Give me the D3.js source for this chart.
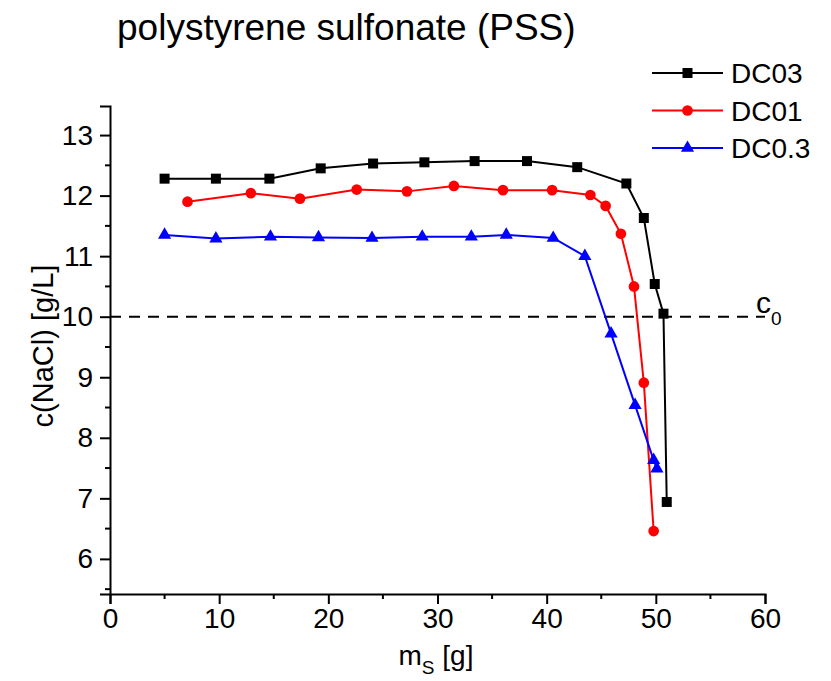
<!DOCTYPE html>
<html>
<head>
<meta charset="utf-8">
<script src="https://cdn.jsdelivr.net/npm/d3@7"></script>
<style>
  body { margin: 0; background: #fff; }
  text { font-family: "Liberation Sans", Arial, sans-serif; }
</style>
</head>
<body>
<div id="chart"></div>
<script>
// data
var dc03X = [5.0, 9.7, 14.6, 19.3, 24.1, 28.8, 33.4, 38.2, 42.8, 47.3, 48.9, 49.9, 50.7, 51.0];
var dc03Y = [12.28, 12.28, 12.28, 12.45, 12.53, 12.55, 12.57, 12.57, 12.47, 12.2, 11.63, 10.54, 10.05, 6.94];

var dc01X = [7.1, 12.9, 17.4, 22.6, 27.2, 31.5, 36.0, 40.5, 44.0, 45.4, 46.8, 48.0, 48.9, 49.8];
var dc01Y = [11.90, 12.04, 11.95, 12.10, 12.07, 12.16, 12.09, 12.09, 12.01, 11.83, 11.37, 10.50, 8.91, 6.46];

var dc03sX = [5.0, 9.7, 14.7, 19.1, 24.0, 28.6, 33.1, 36.3, 40.6, 43.5, 45.9, 48.1, 49.8, 50.1];
var dc03sY = [11.35, 11.29, 11.32, 11.31, 11.30, 11.32, 11.32, 11.35, 11.30, 11.0, 9.72, 8.54, 7.63, 7.49];

var xTicks = [0, 10, 20, 30, 40, 50, 60];
var yTicks = [6, 7, 8, 9, 10, 11, 12, 13];
var c0 = 10;

var seriesNames = ["DC03", "DC01", "DC0.3"];
var seriesColors = ["#000000", "#ff0000", "#0000ff"];
var seriesShapes = [d3.symbolSquare, d3.symbolCircle, d3.symbolTriangle];

var W = 831, H = 681;
var margin = {left: 110, right: 66, top: 106, bottom: 87};

var svg = d3.select("#chart").append("svg")
  .attr("width", W).attr("height", H);

var x = d3.scaleLinear().domain([0, 60]).range([margin.left, W - margin.right]);
var y = d3.scaleLinear().domain([5.42, 13.48]).range([H - margin.bottom, margin.top]);

// title
svg.append("text")
  .attr("x", 117).attr("y", 40)
  .style("font-size", "37px")
  .text("polystyrene sulfonate (PSS)");

// axes
var xAxis = d3.axisBottom(x).tickValues(xTicks).tickSize(10).tickPadding(4);
var yAxis = d3.axisLeft(y).tickValues(yTicks).tickSize(10).tickPadding(7);

var gx = svg.append("g").attr("transform", "translate(0," + y.range()[0] + ")").call(xAxis);
var gy = svg.append("g").attr("transform", "translate(" + x.range()[0] + ",0)").call(yAxis);

// minor ticks
var xMinor = d3.range(5, 60, 10);
var yMinor = d3.range(5.5, 13.5, 1);
gx.selectAll(".minor").data(xMinor).enter().append("line")
  .attr("x1", function(d) { return x(d); }).attr("x2", function(d) { return x(d); })
  .attr("y1", 0).attr("y2", 5).attr("stroke", "#000").attr("stroke-width", 2);
gy.selectAll(".minor").data(yMinor).enter().append("line")
  .attr("y1", function(d) { return y(d); }).attr("y2", function(d) { return y(d); })
  .attr("x1", 0).attr("x2", -5).attr("stroke", "#000").attr("stroke-width", 2);

[gx, gy].forEach(function(g) {
  g.select(".domain").attr("stroke-width", 2);
  g.selectAll(".tick line").attr("stroke-width", 2);
  g.selectAll(".tick text").style("font-size", "28px").attr("fill", "#000")
    .style("font-family", "'Liberation Sans', Arial, sans-serif");
});

// axis titles
var xt = svg.append("text")
  .attr("x", 436).attr("y", 665)
  .attr("text-anchor", "middle")
  .style("font-size", "28px");
xt.append("tspan").text("m");
xt.append("tspan").attr("dy", 9).style("font-size", "19px").text("S");
xt.append("tspan").attr("dy", -9).text(" [g]");

svg.append("text")
  .attr("transform", "translate(53,346) rotate(-90)")
  .attr("text-anchor", "middle")
  .style("font-size", "29px")
  .text("c(NaCl) [g/L]");

// c0 reference line
svg.append("line")
  .attr("x1", x(0)).attr("x2", x(60))
  .attr("y1", y(c0)).attr("y2", y(c0))
  .attr("stroke", "#000").attr("stroke-width", 2)
  .attr("stroke-dasharray", "11,8");

var c0t = svg.append("text")
  .attr("x", 756).attr("y", y(c0) - 4)
  .style("font-size", "30px");
c0t.append("tspan").text("c");
c0t.append("tspan").attr("dy", 12).style("font-size", "19px").text("0");

// series
var allSeries = [
  {name: seriesNames[0], xs: dc03X, ys: dc03Y, color: seriesColors[0], shape: seriesShapes[0], size: 100},
  {name: seriesNames[1], xs: dc01X, ys: dc01Y, color: seriesColors[1], shape: seriesShapes[1], size: 90},
  {name: seriesNames[2], xs: dc03sX, ys: dc03sY, color: seriesColors[2], shape: seriesShapes[2], size: 75}
];

var line = d3.line()
  .x(function(d) { return x(d[0]); })
  .y(function(d) { return y(d[1]); });

allSeries.forEach(function(s) {
  var pts = s.xs.map(function(v, i) { return [v, s.ys[i]]; });
  svg.append("path")
    .datum(pts)
    .attr("d", line)
    .attr("fill", "none")
    .attr("stroke", s.color)
    .attr("stroke-width", 2);
  svg.append("g").selectAll("path")
    .data(pts)
    .enter()
    .append("path")
      .attr("d", d3.symbol().type(s.shape).size(s.size))
      .attr("transform", function(d) { return "translate(" + x(d[0]) + "," + y(d[1]) + ")"; })
      .attr("fill", s.color);
});

// legend
var legend = svg.append("g");
allSeries.forEach(function(s, i) {
  var ly = 73 + i * 37.5;
  legend.append("line")
    .attr("x1", 652).attr("x2", 723)
    .attr("y1", ly).attr("y2", ly)
    .attr("stroke", s.color).attr("stroke-width", 2);
  legend.append("path")
    .attr("d", d3.symbol().type(s.shape).size(s.size))
    .attr("transform", "translate(687.5," + ly + ")")
    .attr("fill", s.color);
  legend.append("text")
    .attr("x", 731).attr("y", ly + 10)
    .style("font-size", "28px")
    .text(s.name);
});
</script>
</body>
</html>
